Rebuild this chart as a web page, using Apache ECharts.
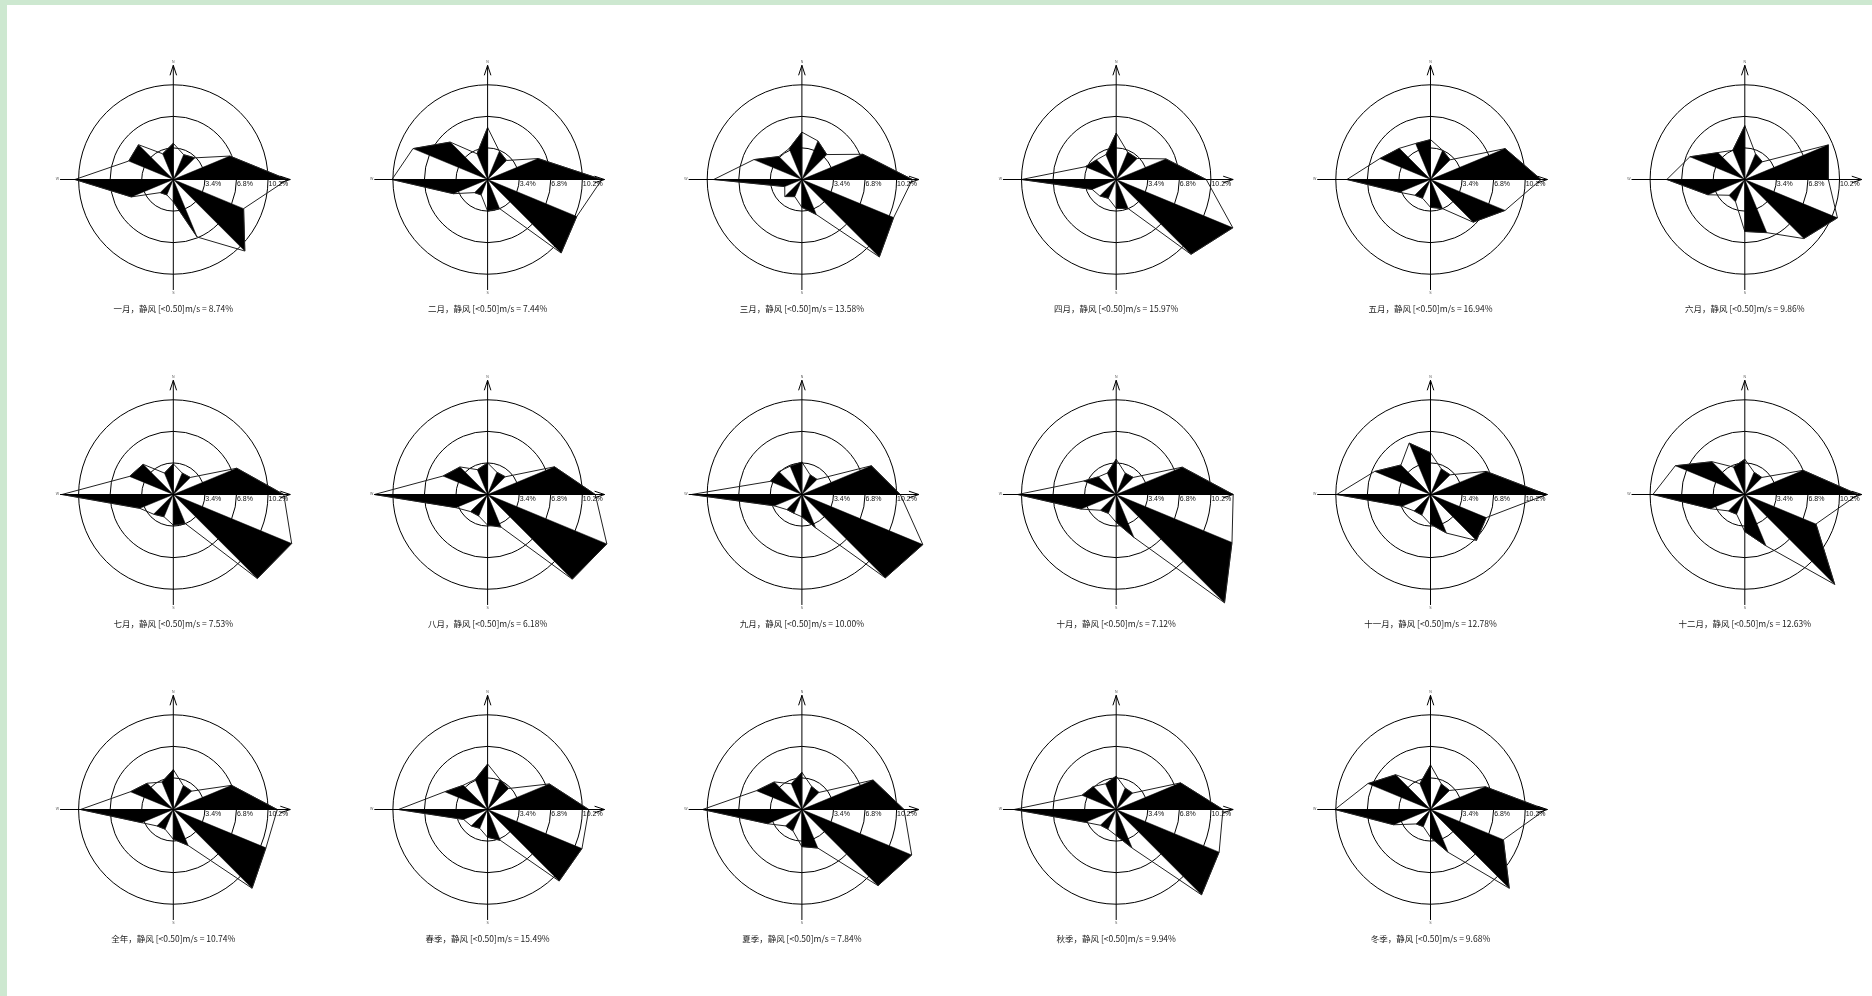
<!DOCTYPE html>
<html><head><meta charset="utf-8">
<script src="https://cdn.jsdelivr.net/npm/echarts@6/dist/echarts.min.js"></script>
<style>html,body{margin:0;padding:0;background:#fff}#c{width:1872px;height:996px}</style>
</head><body><div id="c"></div>
<script>
// ---- data ----
const directions = ['N','NNE','NE','ENE','E','ESE','SE','SSE','S','SSW','SW','WSW','W','WNW','NW','NNW'];
const directionAngles = [0,22.5,45,67.5,90,112.5,135,157.5,180,202.5,225,247.5,270,292.5,315,337.5];
const ringTicks = [3.4, 6.8, 10.2];
const ringLabels = ['3.4%', '6.8%', '10.2%'];
const periodNames = ['一月','二月','三月','四月','五月','六月','七月','八月','九月','十月','十一月','十二月','全年','春季','夏季','秋季','冬季'];
const calmPercent = ['8.74','7.44','13.58','15.97','16.94','9.86','7.53','6.18','10.00','7.12','12.78','12.63','10.74','15.49','7.84','9.94','9.68'];

// frequency (%) per direction, order N, NNE, NE, ... NNW
const freqJan = [3.9, 2.9, 3.3, 6.6, 12.3, 8.2, 10.9, 6.7, 2.4, 1.8, 2.0, 4.9, 10.6, 5.2, 5.3, 3.0];
const freqFeb = [5.6, 3.3, 2.9, 5.9, 12.3, 10.4, 11.2, 3.4, 3.4, 1.8, 2.0, 4.0, 10.3, 8.7, 5.7, 3.0];
const freqMar = [5.1, 4.5, 3.8, 7.1, 11.9, 10.7, 11.8, 4.1, 3.0, 2.0, 2.6, 2.0, 9.5, 5.6, 3.5, 3.6];
const freqApr = [5.0, 3.2, 3.2, 5.8, 9.7, 13.6, 11.4, 3.4, 3.1, 2.2, 2.5, 2.8, 10.2, 3.6, 3.0, 2.9];
const freqMay = [4.3, 3.4, 3.0, 8.7, 11.9, 8.7, 6.5, 3.4, 3.0, 2.2, 2.4, 3.6, 9.0, 5.9, 4.75, 4.2];
const freqJun = [5.8, 3.0, 2.7, 9.75, 9.0, 10.8, 9.0, 6.2, 5.6, 2.6, 2.4, 4.3, 8.4, 6.4, 4.1, 3.4];
const freqJul = [3.3, 2.5, 2.6, 7.4, 11.9, 13.8, 12.8, 3.4, 3.3, 2.6, 3.0, 3.9, 12.0, 5.1, 4.6, 2.5];
const freqAug = [3.4, 2.6, 2.7, 7.8, 11.6, 13.9, 12.9, 3.8, 3.3, 2.5, 2.6, 3.7, 12.2, 5.2, 4.2, 2.9];
const freqSep = [3.5, 2.3, 2.3, 8.1, 10.6, 14.1, 12.7, 3.9, 2.4, 2.2, 2.3, 3.2, 11.9, 3.7, 3.5, 3.3];
const freqOct = [3.8, 2.5, 2.6, 7.7, 12.6, 13.5, 16.5, 5.0, 3.0, 2.2, 2.4, 4.1, 10.6, 3.8, 2.7, 2.5];
const freqNov = [4.5, 3.0, 3.0, 6.5, 12.5, 6.5, 7.0, 4.5, 3.2, 2.4, 2.5, 3.3, 10.1, 6.5, 4.5, 6.0];
const freqDec = [3.8, 2.6, 2.6, 6.8, 12.2, 8.3, 13.7, 6.0, 4.0, 2.3, 2.5, 4.0, 9.9, 8.1, 5.0, 3.2];
const freqYear = [4.3, 2.8, 2.8, 6.8, 11.2, 10.8, 12.0, 4.2, 3.2, 2.3, 2.5, 3.7, 10.0, 5.0, 4.0, 3.2];
const freqSpring = [4.9, 3.5, 3.2, 7.2, 10.9, 11.0, 10.9, 3.6, 3.0, 2.2, 2.5, 2.8, 9.6, 5.0, 3.7, 3.5];
const freqSummer = [4.0, 2.7, 2.6, 8.3, 11.0, 12.8, 11.6, 4.5, 4.0, 2.5, 2.5, 4.0, 10.7, 5.3, 4.2, 3.0];
const freqAutumn = [3.6, 2.5, 2.5, 7.5, 11.5, 12.0, 13.0, 4.5, 2.8, 2.3, 2.4, 3.6, 11.0, 4.0, 3.5, 3.0];
const freqWinter = [4.8, 3.0, 2.9, 6.4, 12.4, 8.5, 12.0, 5.0, 3.0, 2.0, 2.2, 4.3, 10.3, 7.3, 5.3, 3.0];

const allFreq = [freqJan, freqFeb, freqMar, freqApr, freqMay, freqJun, freqJul, freqAug, freqSep,
  freqOct, freqNov, freqDec, freqYear, freqSpring, freqSummer, freqAutumn, freqWinter];

// ---- layout ----
const colX = [173.3, 487.6, 801.9, 1116.2, 1430.5, 1744.8];
const rowY = [179.5, 494.5, 809.5];
const ringRadiusPx = 94.7;
const axisExt = {top: 12.3, bottom: 11.9, left: 12.2, right: 12.6};

const chart = echarts.init(document.getElementById('c'));
const polar = [], angleAxis = [], radiusAxis = [], series = [], graphic = [];

graphic.push({type: 'rect', shape: {x: 0, y: 0, width: 1872, height: 5}, style: {fill: '#cde8d0'}, silent: true});
graphic.push({type: 'rect', shape: {x: 0, y: 0, width: 7, height: 996}, style: {fill: '#cde8d0'}, silent: true});

function petalItem(params, api) {
  const i = params.dataIndex;
  const c = api.coord([0, 0]);
  const p1 = api.coord([api.value(0), api.value(1)]);
  const p2 = api.coord([api.value(2), api.value(3)]);
  const children = [];
  if (i % 2 === 1) {
    children.push({type: 'polygon', shape: {points: [c, p1, p2]}, style: {fill: '#000', stroke: '#000', lineWidth: 0.5}});
  }
  children.push({type: 'line', shape: {x1: p1[0], y1: p1[1], x2: p2[0], y2: p2[1]}, style: {stroke: '#222', lineWidth: 1}});
  return {type: 'group', children};
}

function frameItem(params, api) {
  const p = api.coord([api.value(0), api.value(1)]);
  const children = [{
    type: 'text',
    style: {text: ringLabels[params.dataIndex], x: p[0] + 0.5, y: p[1] + 1.5, fontSize: 7,
      fontFamily: 'Liberation Sans, Arial', fill: '#111', align: 'left', verticalAlign: 'top'}
  }];
  if (params.dataIndex === 0) {
    const t = api.coord([axisExt.top, 0]);
    const b = api.coord([axisExt.bottom, 180]);
    const l = api.coord([axisExt.left, 270]);
    const r = api.coord([axisExt.right, 90]);
    const st = {stroke: '#000', lineWidth: 1};
    children.push({type: 'line', shape: {x1: b[0], y1: b[1], x2: t[0], y2: t[1]}, style: st});
    children.push({type: 'line', shape: {x1: l[0], y1: l[1], x2: r[0], y2: r[1]}, style: st});
    children.push({type: 'polyline', shape: {points: [[t[0] - 3.3, t[1] + 10], [t[0], t[1]], [t[0] + 3.3, t[1] + 10]]}, style: {stroke: '#000', lineWidth: 1, fill: null}});
    children.push({type: 'polyline', shape: {points: [[r[0] - 10, r[1] - 3.3], [r[0], r[1]], [r[0] - 10, r[1] + 3.3]]}, style: {stroke: '#000', lineWidth: 1, fill: null}});
    children.push({type: 'text', style: {text: 'N', x: t[0], y: t[1] - 1, fontSize: 3.5, fill: '#555', align: 'center', verticalAlign: 'bottom'}});
    children.push({type: 'text', style: {text: 'S', x: b[0], y: b[1] + 1, fontSize: 3.5, fill: '#555', align: 'center', verticalAlign: 'top'}});
    children.push({type: 'text', style: {text: 'W', x: l[0] - 1, y: l[1], fontSize: 3.5, fill: '#555', align: 'right', verticalAlign: 'middle'}});
  }
  return {type: 'group', children};
}

allFreq.forEach((vals, k) => {
  const cx = colX[k % 6], cy = rowY[Math.floor(k / 6)];
  polar.push({center: [cx, cy], radius: ringRadiusPx});
  angleAxis.push({polarIndex: k, type: 'value', min: 0, max: 360, startAngle: 90, clockwise: true,
    axisLine: {show: false}, axisTick: {show: false}, axisLabel: {show: false}, splitLine: {show: false}});
  radiusAxis.push({polarIndex: k, type: 'value', min: 0, max: 10.2, interval: 3.4,
    axisLine: {show: false}, axisTick: {show: false}, axisLabel: {show: false},
    splitLine: {show: true, lineStyle: {color: '#000', width: 1}}});
  series.push({
    type: 'custom', coordinateSystem: 'polar', polarIndex: k, silent: true, clip: false,
    encode: {radius: 0, angle: 1},
    data: vals.map((v, i) => [v, directionAngles[i], vals[(i + 1) % 16], directionAngles[i] + 22.5]),
    renderItem: petalItem, z: 3
  });
  series.push({
    type: 'custom', coordinateSystem: 'polar', polarIndex: k, silent: true, clip: false,
    encode: {radius: 0, angle: 1},
    data: ringTicks.map(v => [v, 90]),
    renderItem: frameItem, z: 4
  });
  graphic.push({type: 'text', silent: true, x: cx, y: cy + 129.5,
    style: {text: periodNames[k] + '，静风 [<0.50]m/s = ' + calmPercent[k] + '%', fontSize: 8.5,
      fontFamily: 'Noto Sans CJK SC', fill: '#222', align: 'center', verticalAlign: 'middle'}});
});

chart.setOption({
  backgroundColor: '#fff',
  animation: false,
  polar, angleAxis, radiusAxis, series, graphic
});
</script>
</body></html>
